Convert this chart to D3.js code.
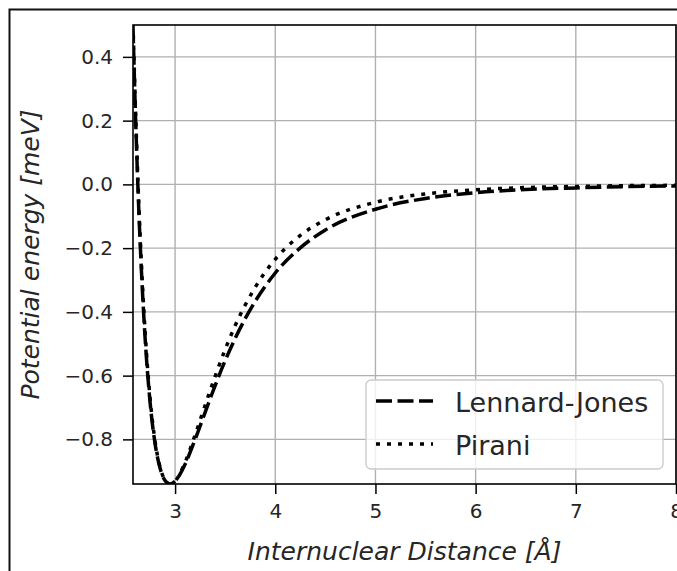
<!DOCTYPE html>
<html>

<head>
  <meta charset="utf-8">
  <title>Potential energy</title>
  <script src="https://d3js.org/d3.v7.min.js"></script>
  <style>
    body { margin: 0; background: #fff; }
    text { font-family: "DejaVu Sans", sans-serif; fill: #262626; }
  </style>
</head>

<body>
  <svg width="677" height="571"></svg>
  <script>
    // internuclear distance (Å)
    const distance = [2.58, 2.6, 2.62, 2.64, 2.66, 2.7, 2.75, 2.8, 2.85, 2.9, 2.95, 3.0, 3.1, 3.2, 3.3,
      3.4, 3.5, 3.6, 3.8, 4.0, 4.25, 4.5, 5.0, 5.5, 6.0, 6.5, 7.0, 7.5, 8.0];
    // potential energy (meV)
    const lennardJones = [0.493, 0.268, 0.072, -0.098, -0.244, -0.478, -0.682, -0.813, -0.890, -0.929,
      -0.940, -0.931, -0.878, -0.800, -0.715, -0.631, -0.553, -0.483, -0.367, -0.278, -0.199, -0.143,
      -0.078, -0.044, -0.026, -0.016, -0.011, -0.007, -0.005];
    const pirani = [0.505, 0.286, 0.092, -0.076, -0.222, -0.459, -0.669, -0.805, -0.887, -0.928,
      -0.940, -0.931, -0.872, -0.786, -0.693, -0.602, -0.518, -0.443, -0.323, -0.235, -0.160, -0.111,
      -0.056, -0.030, -0.017, -0.010, -0.0065, -0.004, -0.003];
    const xTicks = [3, 4, 5, 6, 7, 8];
    const yTicks = [-0.8, -0.6, -0.4, -0.2, 0.0, 0.2, 0.4];
    const seriesNames = ["Lennard-Jones", "Pirani"];

    const svg = d3.select("svg");
    const plotL = 133, plotR = 676, plotT = 25, plotB = 484;

    const x = d3.scaleLinear().domain([2.58, 8.0]).range([plotL, plotR]);
    const y = d3.scaleLinear().domain([-0.94, 0.5]).range([plotB, plotT]);

    // outer figure border
    svg.append("rect")
      .attr("x", 9.5).attr("y", 9.5)
      .attr("width", 700).attr("height", 600)
      .attr("fill", "none").attr("stroke", "#111").attr("stroke-width", 2);

    // grid
    svg.append("g").selectAll("line").data(xTicks).join("line")
      .attr("x1", d => x(d)).attr("x2", d => x(d))
      .attr("y1", plotT).attr("y2", plotB)
      .attr("stroke", "#b0b0b0").attr("stroke-width", 1.4);
    svg.append("g").selectAll("line").data(yTicks).join("line")
      .attr("x1", plotL).attr("x2", plotR)
      .attr("y1", d => y(d)).attr("y2", d => y(d))
      .attr("stroke", "#b0b0b0").attr("stroke-width", 1.4);

    // axes
    const fmtY = d => d3.format(".1f")(d).replace("-", "\u2212");
    const xAxis = svg.append("g")
      .attr("transform", `translate(0,${plotB})`)
      .call(d3.axisBottom(x).tickValues(xTicks).tickFormat(d3.format("d")).tickSize(10).tickPadding(10));
    const yAxis = svg.append("g")
      .attr("transform", `translate(${plotL},0)`)
      .call(d3.axisLeft(y).tickValues(yTicks).tickFormat(fmtY).tickSize(10).tickPadding(10));
    [xAxis, yAxis].forEach(g => {
      g.select(".domain").remove();
      g.selectAll("line").attr("stroke", "#000").attr("stroke-width", 1.5);
      g.selectAll("text").attr("font-size", 20).attr("font-family", "DejaVu Sans").attr("fill", "#262626");
    });

    // lines
    svg.append("clipPath").attr("id", "clip")
      .append("rect").attr("x", plotL).attr("y", plotT)
      .attr("width", plotR - plotL).attr("height", plotB - plotT);

    const line = d3.line()
      .x((d, i) => x(distance[i]))
      .y(d => y(d))
      .curve(d3.curveMonotoneX);

    const styles = [
      { values: lennardJones, dash: "16,5.5" },
      { values: pirani, dash: "4,7" }
    ];
    svg.append("g").attr("clip-path", "url(#clip)")
      .selectAll("path").data(styles).join("path")
      .attr("d", d => line(d.values))
      .attr("fill", "none")
      .attr("stroke", "#000")
      .attr("stroke-width", 3.5)
      .attr("stroke-dasharray", d => d.dash);

    // spines
    svg.append("rect")
      .attr("x", plotL).attr("y", plotT)
      .attr("width", plotR - plotL).attr("height", plotB - plotT)
      .attr("fill", "none").attr("stroke", "#000").attr("stroke-width", 1.6);

    // axis labels
    svg.append("text")
      .attr("x", (plotL + plotR) / 2).attr("y", 560)
      .attr("text-anchor", "middle").attr("font-size", 25).attr("font-style", "italic")
      .text("Internuclear Distance [Å]");
    svg.append("text")
      .attr("transform", `translate(39,${(plotT + plotB) / 2}) rotate(-90)`)
      .attr("text-anchor", "middle").attr("font-size", 25).attr("font-style", "italic")
      .text("Potential energy [meV]");

    // legend
    const legend = svg.append("g");
    legend.append("rect")
      .attr("x", 366).attr("y", 380).attr("width", 297).attr("height", 89)
      .attr("rx", 5).attr("fill", "#fff").attr("fill-opacity", 0.8)
      .attr("stroke", "#cccccc").attr("stroke-width", 1.4);
    seriesNames.forEach((name, i) => {
      const cy = 401 + i * 43;
      legend.append("line")
        .attr("x1", 376).attr("x2", 433).attr("y1", cy).attr("y2", cy)
        .attr("stroke", "#000").attr("stroke-width", 3.5)
        .attr("stroke-dasharray", styles[i].dash);
      legend.append("text")
        .attr("x", 455).attr("y", cy + 11)
        .attr("font-size", 27)
        .text(name);
    });
  </script>
</body>

</html>
